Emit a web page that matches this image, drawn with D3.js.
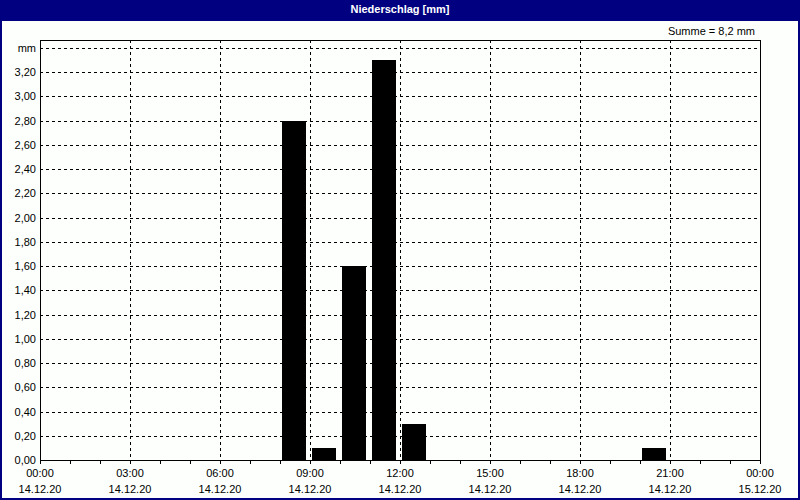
<!DOCTYPE html>
<html>
<head>
<meta charset="utf-8">
<script src="https://cdn.jsdelivr.net/npm/d3@7"></script>
<style>
  body { margin: 0; background: #fff; }
  svg { display: block; font-family: "Liberation Sans", Arial, sans-serif; }
</style>
</head>
<body>
<svg id="chart"></svg>
<script>
// Niederschlag, 14.12.20, hourly sums (start hour of each interval)
const hours = [8, 9, 10, 11, 12, 20];
const rain = [2.8, 0.1, 1.6, 3.3, 0.3, 0.1];
const yTicks = [0, 0.2, 0.4, 0.6, 0.8, 1.0, 1.2, 1.4, 1.6, 1.8, 2.0, 2.2, 2.4, 2.6, 2.8, 3.0, 3.2, 3.4];
const title = "Niederschlag [mm]";
const sumLabel = "Summe = 8,2 mm";

const W = 800, H = 500;
const pLeft = 40, pRight = 760, pTop = 40, pBottom = 460;

const day0 = new Date(2020, 11, 14, 0, 0);
const day1 = new Date(2020, 11, 15, 0, 0);
const data = hours.map((h, i) => ({ t: new Date(2020, 11, 14, h), v: rain[i] }));

const svg = d3.select("#chart").attr("width", W).attr("height", H);

svg.append("rect").attr("width", W).attr("height", H).attr("fill", "#fcfffc");

// window frame + title bar
svg.append("rect").attr("x", 1).attr("y", 1).attr("width", W - 2).attr("height", H - 2)
  .attr("fill", "none").attr("stroke", "#000080").attr("stroke-width", 2);
svg.append("rect").attr("x", 0).attr("y", 0).attr("width", W).attr("height", 21).attr("fill", "#000080");
svg.append("text").attr("x", W / 2).attr("y", 13).attr("text-anchor", "middle")
  .attr("fill", "#fff").attr("font-weight", "bold").attr("font-size", 11).text(title);

svg.append("text").attr("x", 755).attr("y", 35).attr("text-anchor", "end")
  .attr("font-size", 11).attr("fill", "#000").text(sumLabel);

const x = d3.scaleTime().domain([day0, day1]).range([pLeft, pRight]);
const y = d3.scaleLinear().domain([0, 3.4]).range([pBottom, pBottom - 17 * 24.25]);

const g = svg.append("g").attr("shape-rendering", "crispEdges");

// horizontal grid
g.selectAll(".hgrid").data(yTicks.slice(1)).join("line")
  .attr("x1", pLeft).attr("x2", pRight)
  .attr("y1", d => Math.round(y(d)) + 0.5).attr("y2", d => Math.round(y(d)) + 0.5)
  .attr("stroke", "#000").attr("stroke-dasharray", "3,3");

// vertical grid every 3 hours
const xMajor = x.ticks(d3.timeHour.every(3));
g.selectAll(".vgrid").data(xMajor.slice(1, -1)).join("line")
  .attr("x1", d => Math.round(x(d)) + 0.5).attr("x2", d => Math.round(x(d)) + 0.5)
  .attr("y1", pTop).attr("y2", pBottom)
  .attr("stroke", "#000").attr("stroke-dasharray", "3,3");

// bars
g.selectAll(".bar").data(data).join("rect")
  .attr("x", d => x(d.t) + 2)
  .attr("width", d => (x(d3.timeHour.offset(d.t, 1)) - x(d.t)) * 0.8)
  .attr("y", d => Math.round(y(d.v)))
  .attr("height", d => pBottom - Math.round(y(d.v)))
  .attr("fill", "#000");

// plot frame
g.append("rect").attr("x", pLeft + 0.5).attr("y", pTop + 0.5)
  .attr("width", pRight - pLeft).attr("height", pBottom - pTop)
  .attr("fill", "none").attr("stroke", "#000");

// hourly minor ticks under the axis
g.selectAll(".tick-min").data(x.ticks(d3.timeHour.every(1))).join("line")
  .attr("x1", d => Math.round(x(d)) + 0.5).attr("x2", d => Math.round(x(d)) + 0.5)
  .attr("y1", pBottom).attr("y2", pBottom + 4)
  .attr("stroke", "#000");

// y labels
svg.selectAll(".ylab").data(yTicks).join("text")
  .attr("x", 36).attr("y", d => Math.round(y(d)) + 4)
  .attr("text-anchor", "end").attr("font-size", 11)
  .text(d => d === 3.4 ? "mm" : d3.format(".2f")(d).replace(".", ","));

// x labels
const fTime = d3.timeFormat("%H:%M"), fDate = d3.timeFormat("%d.%m.%y");
const xl = svg.selectAll(".xlab").data(xMajor).join("g")
  .attr("transform", d => `translate(${x(d)},0)`);
xl.append("text").attr("y", 477).attr("text-anchor", "middle").attr("font-size", 11).text(fTime);
xl.append("text").attr("y", 493).attr("text-anchor", "middle").attr("font-size", 11).text(fDate);
</script>
</body>
</html>
